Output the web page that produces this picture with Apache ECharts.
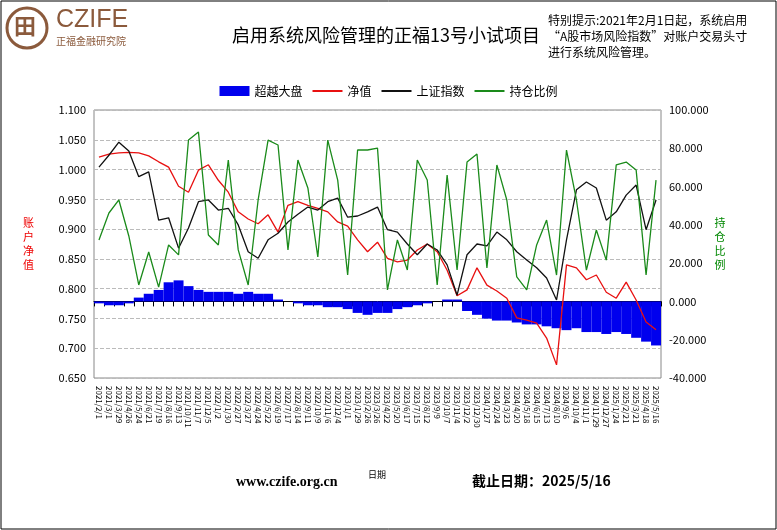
<!DOCTYPE html>
<html><head><meta charset="utf-8">
<script src="https://cdn.jsdelivr.net/npm/echarts@6/dist/echarts.min.js"></script>
<style>body{margin:0;background:#fff}#c{width:777px;height:530px}</style>
</head><body><div id="c"></div>
<script>
// dates roughly every 4 weeks, 2021/2/1 -> 2025/5/16
const dates = [];
for (let i = 0; i < 57; i++) {
  const d = new Date(2021, 1, 1 + Math.round(i * 1565 / 56));
  dates.push(d.getFullYear() + '/' + (d.getMonth() + 1) + '/' + d.getDate());
}
const netValue = [1.021,1.026,1.028,1.029,1.028,1.023,1.013,1.004,0.972,0.962,0.999,1.008,0.982,0.962,0.929,0.917,0.909,0.924,0.895,0.940,0.946,0.940,0.935,0.929,0.912,0.905,0.882,0.862,0.878,0.851,0.845,0.848,0.865,0.875,0.862,0.831,0.788,0.798,0.835,0.806,0.796,0.784,0.751,0.747,0.742,0.717,0.672,0.840,0.835,0.815,0.823,0.794,0.784,0.811,0.781,0.744,0.731];
const shIndex = [1.004,1.024,1.046,1.031,0.988,0.996,0.915,0.919,0.868,0.902,0.946,0.949,0.932,0.935,0.907,0.862,0.851,0.882,0.893,0.912,0.925,0.937,0.932,0.946,0.952,0.920,0.922,0.929,0.937,0.899,0.895,0.875,0.857,0.875,0.865,0.840,0.789,0.857,0.875,0.872,0.895,0.882,0.862,0.848,0.835,0.818,0.781,0.882,0.966,0.979,0.969,0.915,0.929,0.957,0.974,0.899,0.949];
const position = [32.1,46.2,53.0,34.2,8.6,25.8,7.5,29.5,24.3,84.3,88.5,34.7,29.5,73.9,26.9,8.6,53.0,84.3,81.7,26.9,73.9,59.3,23.2,84.3,63.4,13.8,79.1,79.1,80.1,6.0,32.1,16.4,73.9,63.4,8.6,66.0,16.4,72.8,77.0,17.5,71.3,53.0,12.8,6.0,29.5,42.5,13.8,79.1,53.0,16.4,37.3,21.6,71.3,72.8,68.7,13.8,63.4];
const excess = [-1,-2,-2,-1,2,4,6,10,11,8,6,5,5,5,4,5,4,4,1,0,-1,-2,-2,-3,-3,-4,-6,-7,-6,-6,-4,-3,-2,-1,0,1,1,-5,-7,-9,-10,-10,-11,-12,-12,-13,-14,-15,-14,-16,-16,-17,-16,-17,-19,-21,-23];

const chart = echarts.init(document.getElementById('c'));
const font = '"Noto Sans CJK SC", sans-serif';
const lineIcon = 'path://M0 0H30V2H0Z';
chart.setOption({
  animation: false,
  textStyle: { fontFamily: font },
  graphic: [
    { type: 'rect', shape: { x: 1, y: 1, width: 775, height: 528 }, style: { fill: 'none', stroke: '#000', lineWidth: 1 } },
    { type: 'circle', shape: { cx: 27, cy: 28, r: 20 }, style: { fill: 'none', stroke: '#8b5a3c', lineWidth: 3 } },
    { type: 'text', left: 14, top: 15, style: { text: '田', font: 'bold 22px ' + font, fill: '#8b5a3c' } },
    { type: 'text', left: 56, top: 8, style: { text: 'CZIFE', font: '25px "Liberation Sans", sans-serif', fill: '#8b5a3c' } },
    { type: 'text', left: 56, top: 36, style: { text: '正福金融研究院', font: '10px ' + font, fill: '#8b5a3c' } },
    { type: 'text', left: 232, top: 26, style: { text: '启用系统风险管理的正福13号小试项目', font: '18px ' + font, fill: '#000' } },
    { type: 'text', left: 548, top: 12, style: { text: '特别提示:2021年2月1日起，系统启用\n“A股市场风险指数”对账户交易头寸\n进行系统风险管理。', font: '12px ' + font, fill: '#000', lineHeight: 16 } },
    { type: 'text', left: 236, top: 475, style: { text: 'www.czife.org.cn', font: 'bold 14px "Liberation Serif", serif', fill: '#000' } },
    { type: 'text', left: 368, top: 470, style: { text: '日期', font: '9px ' + font, fill: '#000' } },
    { type: 'text', left: 472, top: 474, style: { text: '截止日期：2025/5/16', font: 'bold 14px ' + font, fill: '#000' } }
  ],
  legend: {
    top: 80, left: 'center', itemWidth: 30, itemHeight: 10, itemGap: 10,
    textStyle: { fontSize: 12, color: '#000' },
    data: [
      { name: '超越大盘', icon: 'rect' },
      { name: '净值', icon: lineIcon, itemHeight: 2 },
      { name: '上证指数', icon: lineIcon },
      { name: '持仓比例', icon: lineIcon }
    ]
  },
  grid: { left: 94, right: 116, top: 110, bottom: 152, show: true, borderColor: '#888', borderWidth: 1 },
  xAxis: {
    type: 'category', data: dates, boundaryGap: true,
    axisLine: { lineStyle: { color: '#000' } },
    axisTick: { show: true, interval: 0, lineStyle: { color: '#000' } },
    axisLabel: { interval: 0, rotate: -90, fontSize: 8, color: '#000', margin: 8 }
  },
  yAxis: [
    { type: 'value', min: 0.65, max: 1.1, interval: 0.05,
      name: '账\n户\n净\n值', nameLocation: 'middle', nameGap: 60, nameRotate: 0,
      nameTextStyle: { color: '#e00', fontSize: 11, lineHeight: 14 },
      axisLine: { show: false }, axisTick: { show: false },
      axisLabel: { formatter: v => v.toFixed(3), fontSize: 11, color: '#000' },
      splitLine: { lineStyle: { color: '#bbb', type: 'dashed' } } },
    { type: 'value', min: -40, max: 100, interval: 20,
      name: '持\n仓\n比\n例', nameLocation: 'middle', nameGap: 52, nameRotate: 0,
      nameTextStyle: { color: '#080', fontSize: 11, lineHeight: 14 },
      axisLine: { show: false }, axisTick: { show: false },
      axisLabel: { formatter: v => v.toFixed(3), fontSize: 11, color: '#000' },
      splitLine: { show: false } }
  ],
  series: [
    { name: '超越大盘', type: 'bar', yAxisIndex: 1, data: excess, barCategoryGap: '0%', itemStyle: { color: '#0000ee' } },
    { name: '净值', type: 'line', data: netValue, symbol: 'none', lineStyle: { color: '#e81010', width: 1.3 }, itemStyle: { color: '#e81010' } },
    { name: '上证指数', type: 'line', data: shIndex, symbol: 'none', lineStyle: { color: '#111', width: 1.3 }, itemStyle: { color: '#111' } },
    { name: '持仓比例', type: 'line', yAxisIndex: 1, data: position, symbol: 'none', lineStyle: { color: '#1a8a1a', width: 1.3 }, itemStyle: { color: '#1a8a1a' } }
  ]
});
</script></body></html>
